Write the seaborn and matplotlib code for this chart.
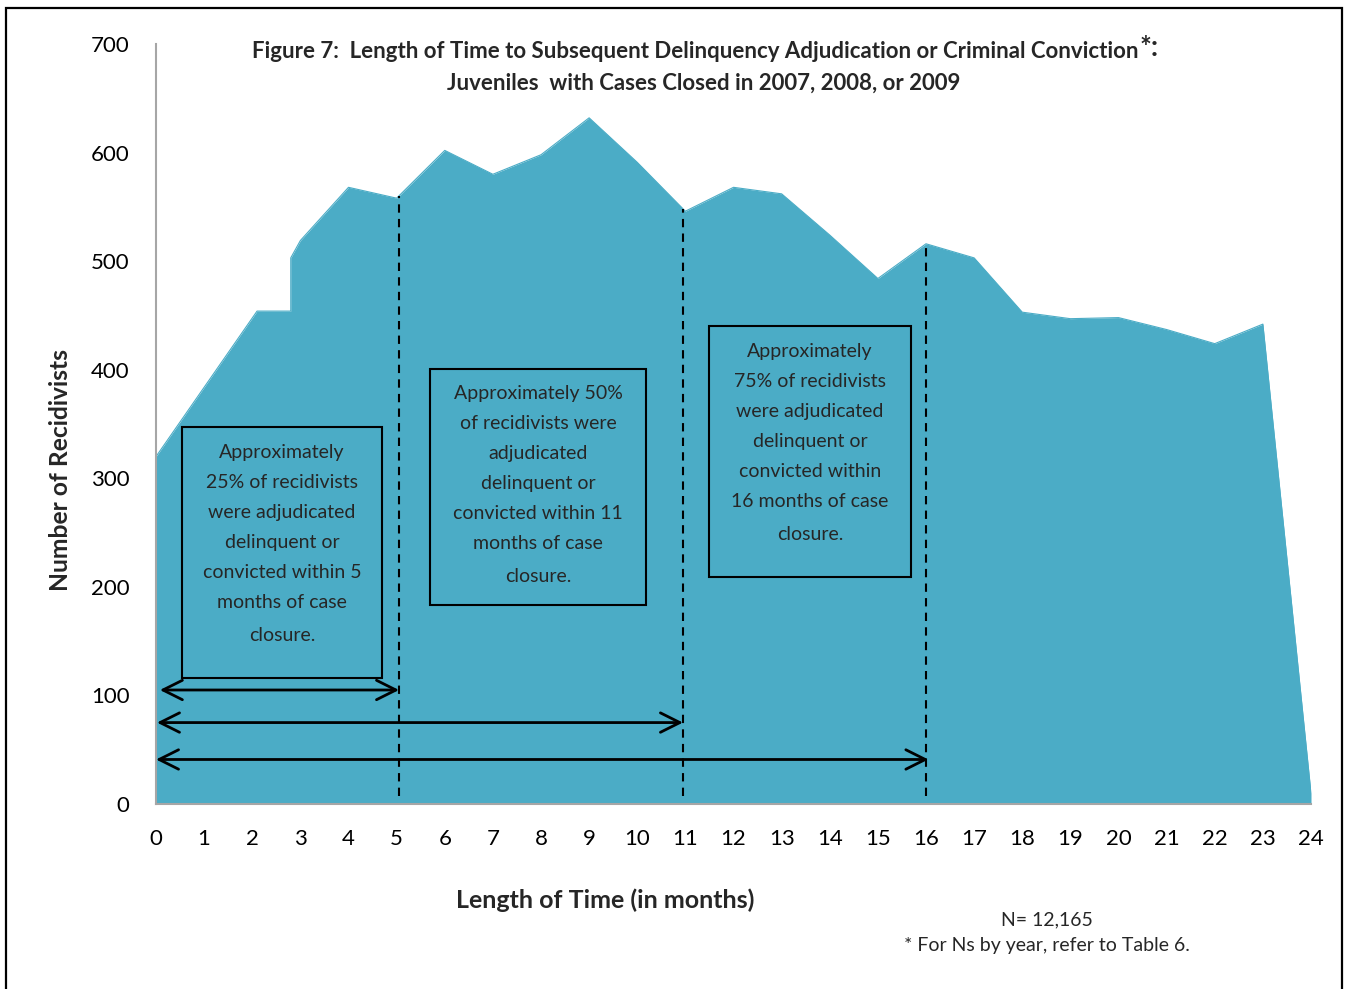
import matplotlib
matplotlib.use("Agg")
import matplotlib.pyplot as plt
import seaborn as sns
import pandas as pd
import numpy as np
from matplotlib.patches import Rectangle

# Monthly counts of recidivists (months since case closure)
months = [0, 2.1, 2.8, 2.8, 3, 4, 5, 6, 7, 8, 9, 10, 11, 12, 13, 14, 15, 16,
          17, 18, 19, 20, 21, 22, 23, 24]
recidivists = [320, 454, 454, 503, 519, 568, 558, 602, 580, 598, 632, 591, 546,
               568, 562, 524, 484, 516, 503, 453, 447, 448, 437, 424, 442, 10]

x_ticks = list(range(0, 25))
y_ticks = [0, 100, 200, 300, 400, 500, 600, 700]

# Cumulative milestones (month marks) and their captions
milestone_months = [5.05, 10.95, 16]
milestone_text = [
    ["Approximately", "25% of recidivists", "were adjudicated", "delinquent or",
     "convicted within 5", "months of case", "closure."],
    ["Approximately 50%", "of recidivists were", "adjudicated", "delinquent or",
     "convicted within 11", "months of case", "closure."],
    ["Approximately", "75% of recidivists", "were adjudicated", "delinquent or",
     "convicted within", "16 months of case", "closure."],
]

title_lines = ["Figure 7:  Length of Time to Subsequent Delinquency Adjudication or Criminal Conviction",
               "Juveniles  with Cases Closed in 2007, 2008, or 2009"]
title_mark = "*:"
x_label = "Length of Time (in months)"
y_label = "Number of Recidivists"
notes = ["N= 12,165", "* For Ns by year, refer to Table 6."]

df = pd.DataFrame({"month": months, "count": recidivists})

sns.set_theme(style="white")
plt.rcParams["font.family"] = ["Lato", "DejaVu Sans"]

FILL = "#4BACC6"
W, H = 1347, 989
fig = plt.figure(figsize=(W / 100, H / 100), dpi=100)
ax = fig.add_axes([156 / W, 1 - 804 / H, (1311 - 156) / W, (804 - 44) / H])

ax.fill_between(df["month"], 0, df["count"], color=FILL, linewidth=0, zorder=1)
sns.lineplot(data=df, x="month", y="count", ax=ax, color=FILL, linewidth=0.8,
             sort=False, estimator=None, zorder=2)

ax.set_xlim(0, 24)
ax.set_ylim(0, 700)
ax.set_xticks(x_ticks)
ax.set_yticks(y_ticks)
ax.tick_params(axis="both", length=0, labelsize=16, colors="black")
ax.tick_params(axis="x", pad=18)
ax.tick_params(axis="y", pad=19)
ax.set_xlabel("")
ax.set_ylabel("")
for side in ["top", "right"]:
    ax.spines[side].set_visible(False)
for side in ["left", "bottom"]:
    ax.spines[side].set_color("#A6A6A6")
    ax.spines[side].set_linewidth(1.5)
ax.grid(False)

# dashed month markers
for m in milestone_months:
    top = np.interp(m, months[4:], recidivists[4:])
    ax.plot([m, m], [7, top], color="black", linestyle=(0, (4, 3)), linewidth=1.5,
            zorder=3)

# double-headed range arrows
arrow_rows = [(0.08, 5.05, 105), (0.02, 10.95, 75), (0.0, 16.05, 41)]
for x0, x1, yv in arrow_rows:
    ax.annotate("", xy=(x1, yv), xytext=(x0, yv),
                arrowprops=dict(arrowstyle="<->,head_length=1.0,head_width=0.5",
                                mutation_scale=14, lw=2, color="black",
                                shrinkA=0, shrinkB=0), zorder=4)

# caption boxes
boxes = [(0.54, 116, 4.70, 347), (5.70, 183, 10.18, 401), (11.49, 209, 15.69, 440)]
for (bx0, by0, bx1, by1), lines in zip(boxes, milestone_text):
    ax.add_patch(Rectangle((bx0, by0), bx1 - bx0, by1 - by0, fill=False,
                           edgecolor="black", linewidth=1.5, zorder=4))
    cx = (bx0 + bx1) / 2
    for i, line in enumerate(lines):
        yv = by1 - 23 - i * 27.6 - (3 if i == len(lines) - 1 else 0)
        ax.text(cx, yv, line, ha="center", va="center", fontsize=14, zorder=5)

# title, with the enlarged asterisk mark after the first line
renderer = fig.canvas.get_renderer()
t1 = fig.text(0, 1 - 52 / H, title_lines[0], ha="left", va="center",
              fontsize=16, fontweight="bold")
t_mark = fig.text(0, 1 - 48 / H, title_mark, ha="left", va="center",
                  fontsize=20, fontweight="bold")
w1 = t1.get_window_extent(renderer).width
w2 = t_mark.get_window_extent(renderer).width
left = 704.5 - (w1 + w2) / 2
t1.set_x(left / W)
t_mark.set_x((left + w1 + 1) / W)
fig.text(704 / W, 1 - 83 / H, title_lines[1], ha="center", va="center",
         fontsize=16, fontweight="bold")

fig.text(605 / W, 1 - 900 / H, x_label, ha="center", va="center",
         fontsize=18, fontweight="bold")
fig.text(60 / W, 1 - 470 / H, y_label, ha="center", va="center",
         rotation=90, fontsize=17.7, fontweight="bold")
fig.text(1047 / W, 1 - 920 / H, notes[0], ha="center", va="center", fontsize=14)
fig.text(1047 / W, 1 - 946 / H, notes[1], ha="center", va="center", fontsize=14)

# outer frame
fig.add_artist(Rectangle((6 / W, -0.05), (1342 - 6) / W, 1.05 - 8 / H,
                         transform=fig.transFigure, fill=False,
                         edgecolor="black", linewidth=1.6))

fig.savefig("out.png", dpi=100)
